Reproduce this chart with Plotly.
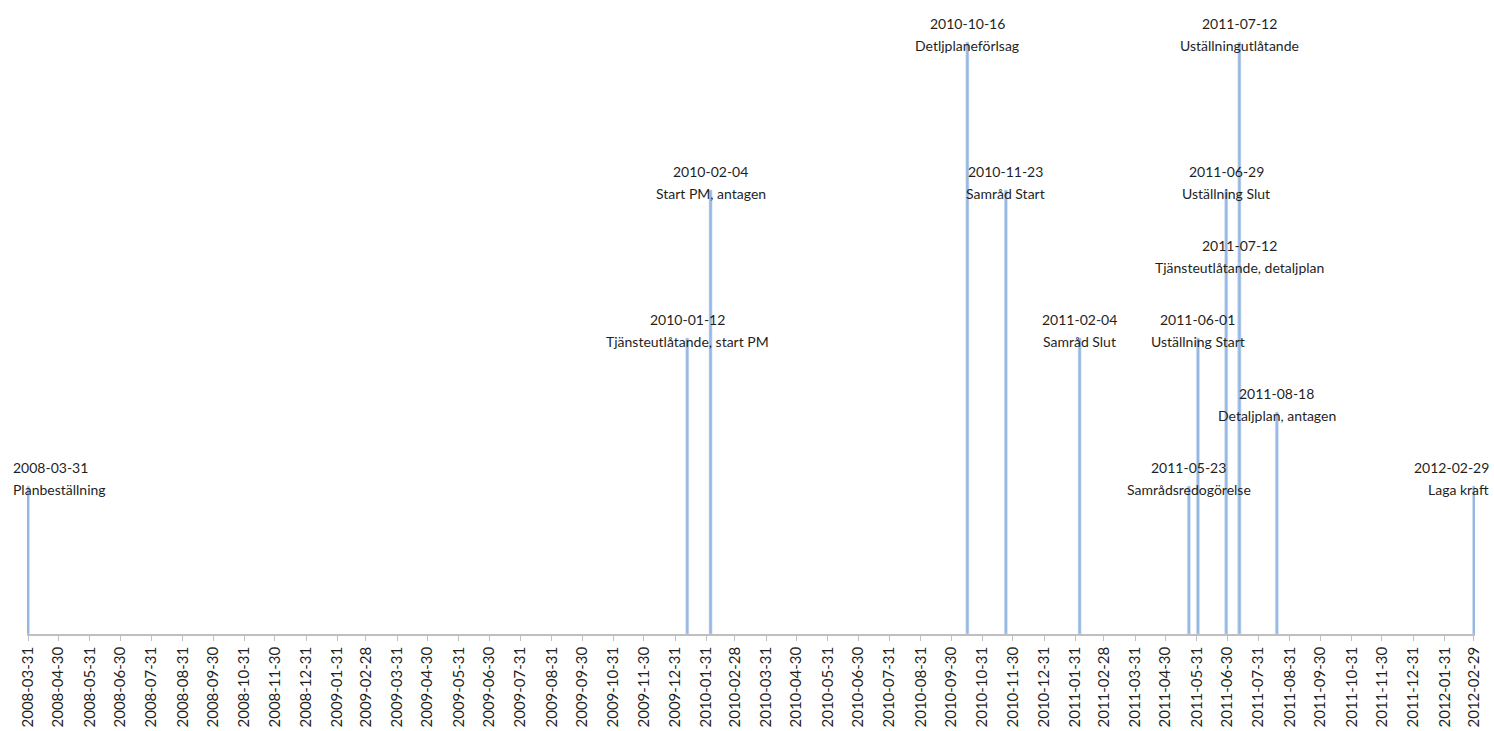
import pandas as pd
import plotly.graph_objects as go

# Milestones of the planning process
event_dates = [
    "2008-03-31", "2010-01-12", "2010-02-04", "2010-10-16", "2010-11-23",
    "2011-02-04", "2011-05-23", "2011-06-01", "2011-06-29", "2011-07-12",
    "2011-07-12", "2011-08-18", "2012-02-29",
]
event_names = [
    "Planbeställning", "Tjänsteutlåtande, start PM", "Start PM, antagen",
    "Detljplaneförlsag", "Samråd Start", "Samråd Slut", "Samrådsredogörelse",
    "Uställning Start", "Uställning Slut", "Uställningutlåtande",
    "Tjänsteutlåtande, detaljplan", "Detaljplan, antagen", "Laga kraft",
]
event_levels = [2, 4, 6, 8, 6, 4, 2, 4, 6, 8, 5, 3, 2]

# Monthly ticks at each month end
axis_start = "2008-03-31"
axis_end = "2012-02-29"
tick_dates = pd.date_range(axis_start, axis_end, freq="ME")
tick_labels = [d.strftime("%Y-%m-%d") for d in tick_dates]

BAR_WIDTH_MS = 3 * 24 * 3600 * 1000
FONT = "Lato, 'Open Sans', sans-serif"
TEXT_COLOR = "#1f1f1f"

fig = go.Figure()
fig.add_trace(go.Bar(
    x=pd.to_datetime(event_dates),
    y=event_levels,
    width=BAR_WIDTH_MS,
    marker=dict(color="#95B7E2", line=dict(color="#D2E1F4", width=0.6)),
    hoverinfo="skip",
))

annotations = []
last = len(event_dates) - 1
for i, (d, name, lvl) in enumerate(zip(event_dates, event_names, event_levels)):
    if i == 0:
        xanchor, xshift = "left", -17
    elif i == last:
        xanchor, xshift = "right", 17
    else:
        xanchor, xshift = "center", 0
    for text, ys in ((d, 19), (name, -3)):
        annotations.append(dict(
            x=d, y=lvl, xref="x", yref="y", text=text, showarrow=False,
            xanchor=xanchor, yanchor="middle", xshift=xshift, yshift=ys,
            font=dict(family=FONT, size=14, color=TEXT_COLOR),
        ))

pad = pd.Timedelta(days=1)
fig.update_layout(
    width=1494, height=731,
    margin=dict(l=27, r=19, t=0, b=97),
    paper_bgcolor="white", plot_bgcolor="white",
    showlegend=False, barmode="overlay",
    annotations=annotations,
    xaxis=dict(
        type="date",
        range=[pd.Timestamp(axis_start) - pad, pd.Timestamp(axis_end) + pad],
        tickmode="array", tickvals=tick_dates, ticktext=tick_labels,
        tickangle=-90, ticks="outside", ticklen=5, tickcolor="#BFBFBF",
        showline=True, linecolor="#BFBFBF", linewidth=1.5,
        showgrid=False, zeroline=False, automargin=False,
        tickfont=dict(family=FONT, size=15, color=TEXT_COLOR),
    ),
    yaxis=dict(
        range=[0, 634 / 74], visible=False, showgrid=False, zeroline=False,
        fixedrange=True,
    ),
)

fig.write_html("out.html")
